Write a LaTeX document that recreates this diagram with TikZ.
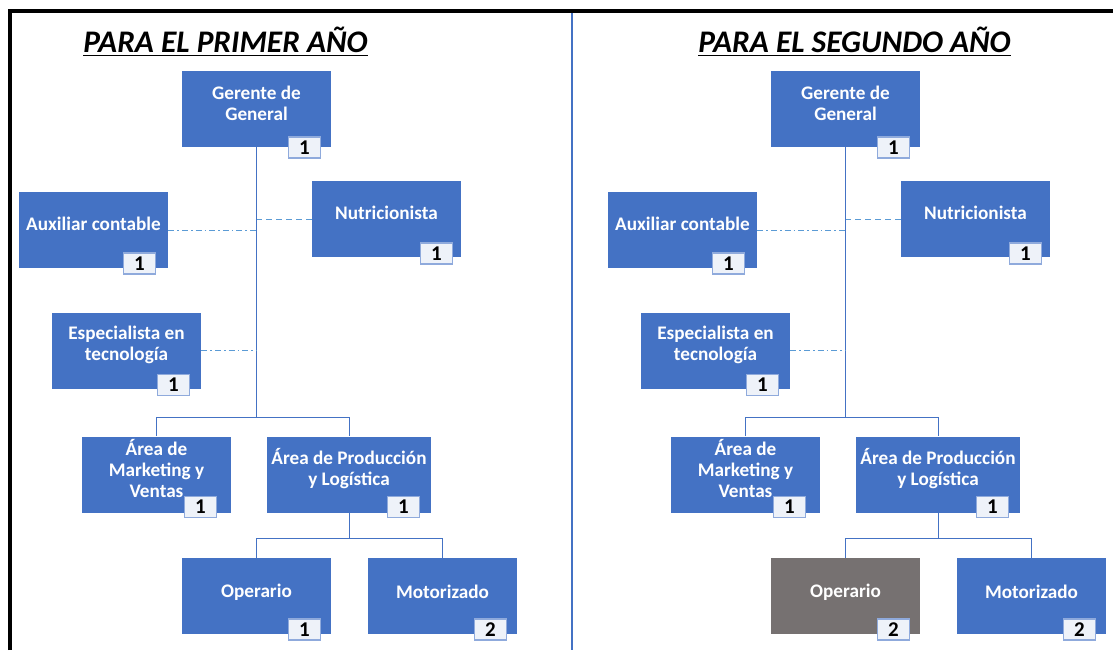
\documentclass[tikz,border=0pt]{standalone}
\usepackage{fontspec}
\setmainfont{Carlito}
\usepackage{xcolor}
\definecolor{unitBlue}{HTML}{4472C4}
\definecolor{unitGray}{HTML}{767171}
\definecolor{lineBlue}{HTML}{4472C4}
\definecolor{staffBlue}{HTML}{5B9BD5}
\definecolor{badgeEdge}{HTML}{8FAADC}
\definecolor{badgeFill}{HTML}{EEF2F9}
\usepackage{tikz}
\usetikzlibrary{positioning,calc}
\tikzset{
    % Base style for all unit boxes
    unit base/.style={
        rectangle,
        minimum width=74.5pt,
        minimum height=38pt,
        inner sep=0pt,
    },
    % Blue unit box
    unit box/.style={
        unit base,
        fill=unitBlue,
    },
    % Gray unit box (new post)
    unit box gray/.style={
        unit base,
        fill=unitGray,
    },
    % Text inside the boxes
    unit label/.style={
        font=\fontsize{9.6}{10.5}\selectfont\bfseries,
        text=white,
        align=center,
        yshift=3pt,
    },
    % Small head count badge
    count badge/.style={
        font=\fontsize{10.5}{11}\selectfont\bfseries,
        fill=badgeFill,
        draw=badgeEdge,
        line width=0.6pt,
        minimum width=16pt,
        minimum height=10.5pt,
        inner sep=0pt,
    },
    % Connectors
    tree line/.style={
        draw=lineBlue,
        line width=0.5pt,
    },
    staff dashed/.style={
        draw=staffBlue,
        line width=0.5pt,
        dash pattern=on 3pt off 2pt,
    },
    staff dashdot/.style={
        draw=staffBlue,
        line width=0.5pt,
        dash pattern=on 3pt off 1.5pt on 0.8pt off 1.5pt,
    },
    panel title/.style={
        font=\fontsize{15.7}{19}\selectfont\bfseries\itshape,
        inner sep=0pt,
    },
}

\begin{document}
\begin{tikzpicture}[x=0.5pt, y=-0.5pt]
    \useasboundingbox (0,0) rectangle (1113,650);
    % Frame and divider
    \draw[line width=2pt] (10,650) -- (10,11) -- (1113,11);
    \draw[draw=unitBlue, line width=1pt] (572,13) -- (572,650);

    \foreach \dx/\p/\tx/\yr/\opc/\opn in {0/L/225.5/PRIMER/unit box/1, 589/R/265.5/SEGUNDO/unit box gray/2}{
    \begin{scope}[xshift=\dx*0.5pt]
        \node (title\p) [panel title] at (\tx,42) {\underline{PARA EL \yr{} AÑO}};

        \node (ger\p) [unit box, label={[unit label]center:Gerente de\\General}] at (256.5,109) {};
        \node (nut\p) [unit box, label={[unit label]center:Nutricionista}] at (386.5,219) {};
        \node (aux\p) [unit box, label={[unit label]center:Auxiliar contable}] at (93.5,230) {};
        \node (esp\p) [unit box, label={[unit label]center:Especialista en\\tecnología}] at (126.5,350.5) {};
        \node (mkt\p) [unit box, label={[unit label]center:Área de\\Marketing y\\Ventas}] at (156.5,474.5) {};
        \node (prod\p) [unit box, minimum width=82pt, label={[unit label]center:Área de Producción\\y Logística}] at (349,474.5) {};
        \node (ope\p) [\opc, label={[unit label,yshift=-1pt]center:Operario}] at (256.5,596) {};
        \node (mot\p) [unit box, label={[unit label,yshift=-1pt]center:Motorizado}] at (442.5,596) {};

        \node (ger\p-n) [count badge] at ([shift={(-27,0)}]ger\p.south east) {1};
        \node (nut\p-n) [count badge] at ([shift={(-25,-4)}]nut\p.south east) {1};
        \node (aux\p-n) [count badge] at ([shift={(-29,-5)}]aux\p.south east) {1};
        \node (esp\p-n) [count badge] at ([shift={(-28,-4)}]esp\p.south east) {1};
        \node (mkt\p-n) [count badge] at ([shift={(-31,-6)}]mkt\p.south east) {1};
        \node (prod\p-n) [count badge] at ([shift={(-28,-6)}]prod\p.south east) {1};
        \node (ope\p-n) [count badge] at ([shift={(-27,-5)}]ope\p.south east) {\opn};
        \node (mot\p-n) [count badge] at ([shift={(-27,-5)}]mot\p.south east) {2};

        \coordinate (bus\p) at (256.5,417);
        \coordinate (low\p) at (349,538);
        \draw [tree line] (ger\p.south) -- (bus\p);
        \draw [tree line] (mkt\p.north) |- (bus\p) -| (prod\p.north);
        \draw [tree line] (prod\p.south) -- (low\p);
        \draw [tree line] (ope\p.north) |- (low\p) -| (mot\p.north);

        \draw [staff dashed] (nut\p.west) -- (nut\p.west -| ger\p.south);
        \draw [staff dashdot] (aux\p.east) -- (aux\p.east -| ger\p.south);
        \draw [staff dashdot] (esp\p.east) -- (esp\p.east -| ger\p.south);
    \end{scope}
    }
\end{tikzpicture}
\end{document}
